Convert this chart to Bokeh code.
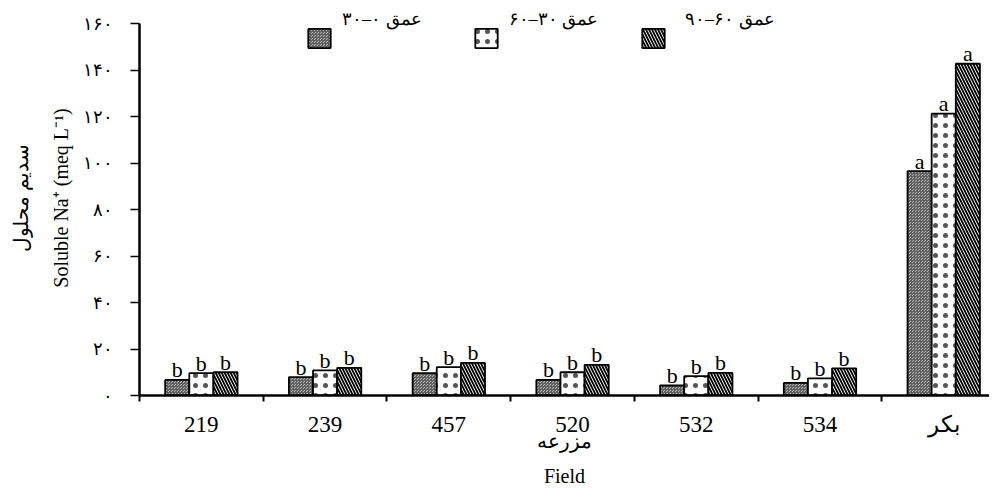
from bokeh.plotting import figure
from bokeh.models import (Range1d, FixedTicker, Legend, LegendItem, ColumnDataSource)
from bokeh.transform import dodge
from bokeh.core.properties import value
from bokeh.embed import file_html
from bokeh.resources import INLINE

# ---- data ----
fields = ["219", "239", "457", "520", "532", "534", "بکر"]
depth_0_30 = [6.7, 7.9, 9.6, 6.7, 4.3, 5.4, 96.5]
depth_30_60 = [9.6, 10.8, 12.2, 10.0, 8.3, 7.4, 121.2]
depth_60_90 = [10.0, 11.9, 14.0, 13.2, 9.7, 11.7, 142.7]
letters_0_30 = ["b", "b", "b", "b", "b", "b", "a"]
letters_30_60 = ["b", "b", "b", "b", "b", "b", "a"]
letters_60_90 = ["b", "b", "b", "b", "b", "b", "a"]
series_labels = ["۳۰–۰ عمق", "۶۰–۳۰ عمق", "۹۰–۶۰ عمق"]
y_ticks = [0, 20, 40, 60, 80, 100, 120, 140, 160]
y_tick_labels = ["۰", "۲۰", "۴۰", "۶۰", "۸۰", "۱۰۰", "۱۲۰", "۱۴۰", "۱۶۰"]
y_title = "سدیم محلول\nSoluble Na⁺ (meq L⁻¹)"
x_title = "مزرعه\nField"

centers = [i + 0.5 for i in range(len(fields))]
bounds = [float(i) for i in range(len(fields) + 1)]

src = ColumnDataSource(dict(x=centers, d1=depth_0_30, d2=depth_30_60, d3=depth_60_90,
                            l1=letters_0_30, l2=letters_30_60, l3=letters_60_90))

FONT = "Liberation Serif"
BW = 0.195

p = figure(frame_width=850, frame_height=395, x_range=Range1d(0, 6.87), y_range=Range1d(0, 169.9),
           output_backend="svg", toolbar_location=None,
           min_border_left=139, min_border_right=0, min_border_top=0, min_border_bottom=60)
p.outline_line_color = None
p.xgrid.visible = False
p.ygrid.visible = False
p.background_fill_color = "white"

styles = [
    dict(fill_color="#b4b4b4", hatch_pattern="criss_cross", hatch_color="#606060",
         hatch_scale=3, hatch_weight=1),
    dict(fill_color="white", hatch_pattern="dot", hatch_color="#555555",
         hatch_scale=10, hatch_weight=0.5),
    dict(fill_color="white", hatch_pattern="left_diagonal_line", hatch_color="black",
         hatch_scale=6, hatch_weight=1.8),
]
cols = ["d1", "d2", "d3"]
lcols = ["l1", "l2", "l3"]
offs = [-BW, 0.0, BW]
renderers = []
for c, lc, o, st in zip(cols, lcols, offs, styles):
    r = p.vbar(x=dodge("x", o, range=p.x_range), top=c, width=BW, source=src,
               line_color="black", line_width=1.8, **st)
    renderers.append(r)
    p.text(x=dodge("x", o, range=p.x_range), y=c, text=lc, source=src,
           y_offset=-10, text_align="center", text_baseline="alphabetic",
           text_font=value(FONT), text_font_size="22px", text_color="black")

# invisible renderers used only to carry legend texts
dummies = [p.vbar(x=[], top=[], width=BW, fill_alpha=0, line_alpha=0) for _ in range(3)]

# axes
xa = p.xaxis[0]
xa.ticker = FixedTicker(ticks=centers, minor_ticks=bounds)
xa.major_label_overrides = {c: f for c, f in zip(centers, fields)}
xa.major_tick_line_color = None
xa.minor_tick_line_color = "black"
xa.minor_tick_line_width = 2
xa.minor_tick_out = 6
xa.minor_tick_in = 0
xa.axis_line_width = 2.5
xa.axis_line_color = "black"
xa.major_label_text_font = FONT
xa.major_label_text_font_size = "23px"
xa.major_label_text_color = "black"
xa.major_label_standoff = 10
xa.axis_label = x_title
xa.axis_label_text_font = FONT
xa.axis_label_text_font_style = "normal"
xa.axis_label_text_font_size = "20px"
xa.axis_label_text_color = "black"
xa.axis_label_text_line_height = 1.6
xa.axis_label_standoff = -10

ya = p.yaxis[0]
ya.bounds = (0, 160)
ya.ticker = FixedTicker(ticks=y_ticks, minor_ticks=[])
ya.major_label_overrides = {t: l for t, l in zip(y_ticks, y_tick_labels)}
ya.major_tick_out = 9
ya.major_tick_in = 0
ya.major_tick_line_width = 1.5
ya.axis_line_width = 2.5
ya.axis_line_color = "black"
ya.major_label_text_font = FONT
ya.major_label_text_font_size = "18px"
ya.major_label_text_color = "black"
ya.major_label_standoff = 18
ya.axis_label = y_title
ya.axis_label_text_font = FONT
ya.axis_label_text_font_style = "normal"
ya.axis_label_text_font_size = "20px"
ya.axis_label_text_color = "black"
ya.axis_label_text_line_height = 1.8
ya.axis_label_standoff = 8

common = dict(orientation="horizontal", label_standoff=11,
              padding=0, margin=0, border_line_color=None,
              background_fill_alpha=0, label_text_font=FONT, label_text_font_size="18px",
              label_text_color="black")
# glyph squares only
leg_glyphs = Legend(items=[LegendItem(label=" ", renderers=[r]) for r in renderers],
                    location=(166, 345), spacing=108, glyph_width=28, glyph_height=24,
                    label_height=24, **common)
# texts (glyphs invisible), raised above the squares
leg_texts = Legend(items=[LegendItem(label=l, renderers=[r]) for l, r in zip(series_labels, dummies)],
                   location=(169, 365), spacing=53, glyph_width=23, glyph_height=20,
                   label_height=20, **common)
p.add_layout(leg_glyphs)
p.add_layout(leg_texts)

open("out.html", "w").write(file_html(p, INLINE))
